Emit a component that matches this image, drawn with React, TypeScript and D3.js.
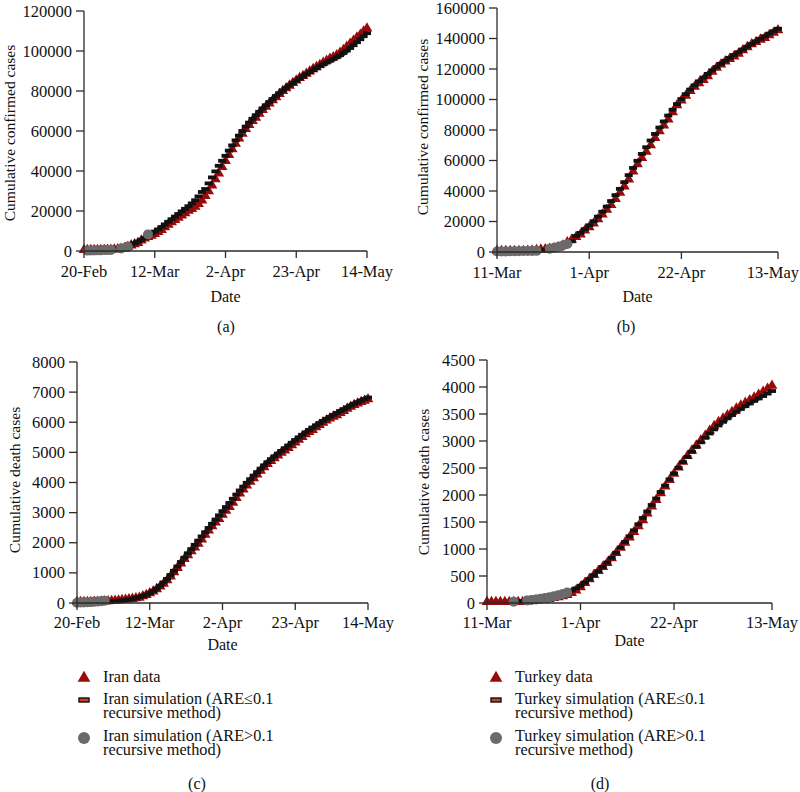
import React from "react";
import * as d3 from "d3";

// ---------- tick labels ----------
const iranTickDays = [0, 21, 42, 63, 84];
const iranTickLabels = ["20-Feb", "12-Mar", "2-Apr", "23-Apr", "14-May"];
const turkeyTickDays = [0, 21, 42, 64];
const turkeyTickLabels = ["11-Mar", "1-Apr", "22-Apr", "13-May"];

// ---------- Iran (day 0 = 20-Feb) ----------
const iranConfirmed = [
  0, 2, 5, 18, 28, 43, 61, 95, 139, 245, 388, 593, 978, 1501, 2336, 2922, 3513, 4747, 5823, 6566,
  7161, 8042, 9000, 10075, 11364, 12729, 13938, 14991, 16169, 17361, 18407, 19644, 20610, 21638, 23049, 24811,
  27017, 29406, 32332, 35408, 38309, 41495, 44605, 47593, 50468, 53183, 55743, 58226, 60500, 62589, 64586,
  66220, 68192, 70029, 71686, 73303, 74877, 76389, 77995, 79494, 80868, 82211, 83505, 84802, 85996, 87026,
  88194, 89328, 90481, 91472, 92584, 93657, 94640, 95646, 96448, 97424, 98647, 99970, 101650, 103135, 104691,
  106220, 107603, 109286, 110767,
];
const iranConfirmedSim = [
  null, 200, 250, 300, 350, 400, 450, 500, 550, 700, 900, 1300, 1700, 2200, 3200, 3900, 4700, 5600, 6500, 8300,
  8700, 9700, 10800, 12000, 13300, 14600, 15900, 17200, 18500, 19800, 21100, 22400, 23800, 25400, 27300, 29500,
  31000, 33800, 36800, 39800, 42600, 45100, 47600, 50200, 52800, 55300, 57700, 60000, 62200, 64200, 66100,
  67900, 69600, 71300, 72900, 74500, 76000, 77500, 78900, 80300, 81600, 82800, 84000, 85100, 86200, 87300,
  88400, 89400, 90400, 91400, 92400, 93300, 94200, 95100, 96000, 96900, 97900, 99000, 100200, 101500, 102900,
  104400, 105900, 107400, 108900,
];
const iranConfirmedHighARE = [1, 2, 3, 4, 5, 6, 7, 8, 11, 13, 19];

const iranDeaths = [
  0, 2, 2, 4, 5, 8, 12, 16, 19, 26, 34, 43, 54, 66, 77, 92, 107, 124, 145, 194,
  237, 291, 354, 429, 514, 611, 724, 853, 988, 1135, 1284, 1433, 1556, 1685, 1812, 1934,
  2077, 2234, 2378, 2517, 2640, 2757, 2898, 3036, 3160, 3294, 3452, 3603, 3739, 3872, 3993,
  4110, 4232, 4357, 4474, 4585, 4683, 4777, 4869, 4958, 5031, 5118, 5209, 5297, 5391, 5481,
  5574, 5650, 5710, 5806, 5877, 5957, 6028, 6091, 6156, 6203, 6277, 6340, 6418, 6486, 6541,
  6589, 6640, 6685, 6733,
];
const iranDeathsSim = [
  10, 15, 20, 25, 30, 40, 50, 60, 75, 35, 45, 57, 70, 85, 100, 118, 140, 165, 195, 230,
  275, 330, 400, 480, 575, 680, 800, 930, 1070, 1215, 1360, 1505, 1650, 1790, 1930, 2070,
  2210, 2350, 2490, 2630, 2770, 2910, 3050, 3185, 3320, 3460, 3600, 3735, 3865, 3990, 4110,
  4230, 4345, 4460, 4570, 4675, 4775, 4870, 4960, 5050, 5140, 5230, 5320, 5410, 5500, 5585,
  5665, 5745, 5825, 5900, 5975, 6045, 6115, 6180, 6245, 6310, 6375, 6435, 6495, 6555, 6610,
  6665, 6720, 6770, 6820,
];
const iranDeathsHighARE = [0, 1, 2, 3, 4, 5, 6, 7, 8];

// ---------- Turkey (day 0 = 11-Mar) ----------
const turkeyConfirmed = [
  1, 1, 5, 6, 18, 47, 98, 191, 359, 670, 947, 1236, 1529, 1872, 2433, 3629, 5698, 7402, 9217, 10827,
  13531, 15679, 18135, 20921, 23934, 27069, 30217, 34109, 38226, 42282, 47029, 52167, 56956, 61049, 65111,
  69392, 74193, 78546, 82329, 86306, 90980, 95591, 98674, 101790, 104912, 107773, 110130, 112261, 114653,
  117589, 120204, 122392, 124375, 126045, 127659, 129491, 131744, 133721, 135569, 137115, 138657, 139771,
  141475, 143114, 144749,
];
const turkeyConfirmedSim = [
  300, 350, 400, 450, 500, 550, 600, 650, 700, 750, 900, 1300, 2200, 2800, 3500, 4300, 5200, 7000, 10500, 12500,
  15000, 17500, 20200, 23200, 26400, 29800, 33400, 37300, 41400, 45800, 50400, 55100, 59800, 64300, 68700,
  73100, 77400, 81600, 85600, 89500, 93300, 97000, 100300, 103500, 106500, 109300, 111900, 114400, 116800,
  119100, 121300, 123400, 125400, 127300, 129200, 131000, 132800, 134600, 136400, 138100, 139800, 141500,
  143200, 144800, 146400,
];
const turkeyConfirmedHighARE = [0, 1, 2, 3, 4, 5, 6, 7, 8, 9, 12, 13, 14, 15, 16];

const turkeyDeaths = [
  0, 0, 0, 0, 0, 0, 1, 2, 3, 9, 21, 30, 37, 44, 59, 75, 92, 108, 131, 168,
  214, 277, 356, 425, 501, 574, 649, 725, 812, 908, 1006, 1101, 1198, 1296, 1403,
  1518, 1643, 1769, 1890, 2017, 2140, 2259, 2376, 2491, 2600, 2706, 2805, 2900, 2992,
  3081, 3174, 3258, 3336, 3397, 3461, 3520, 3584, 3641, 3689, 3739, 3786, 3841, 3894, 3952, 4007,
];
const turkeyDeathsSim = [
  null, null, null, null, null, null, 25, 30, 38, 45, 55, 65, 78, 92, 108, 125, 145, 168, 195, 230,
  270, 320, 380, 445, 515, 590, 668, 750, 838, 930, 1028, 1130, 1236, 1345, 1458,
  1575, 1695, 1815, 1935, 2055, 2175, 2290, 2400, 2505, 2608, 2705, 2800, 2890, 2975,
  3058, 3138, 3215, 3288, 3355, 3420, 3480, 3538, 3593, 3645, 3695, 3742, 3788, 3833, 3878, 3925,
];
const turkeyDeathsHighARE = [6, 9, 10, 11, 12, 13, 14, 15, 16, 17, 18];

// ---------- y ticks ----------
const confIranYTicks = [0, 20000, 40000, 60000, 80000, 100000, 120000];
const confTurkeyYTicks = [0, 20000, 40000, 60000, 80000, 100000, 120000, 140000, 160000];
const deathIranYTicks = [0, 1000, 2000, 3000, 4000, 5000, 6000, 7000, 8000];
const deathTurkeyYTicks = [0, 500, 1000, 1500, 2000, 2500, 3000, 3500, 4000, 4500];

const FONT = "Liberation Serif, DejaVu Serif, serif";
const RED = "#990a0a";
const GRAY = "#6a6a6a";
const AXIS = "#2a2a2a";
const TICK_FS = 16.5;

type PanelProps = {
  left: number; right: number; top: number; bottom: number;
  xMax: number; tickDays: number[]; tickLabels: string[];
  yTicks: number[];
  data: number[]; sim: (number | null)[]; high: number[];
  yTitle: string; titleX: number; titleY: number;
  tickBaseline: number; dateBaseline: number;
};

const txt = (size: number): React.CSSProperties => ({ fontFamily: FONT, fontSize: size });

function Panel(p: PanelProps) {
  const x = d3.scaleLinear().domain([0, p.xMax]).range([p.left, p.right]);
  const yMax = p.yTicks[p.yTicks.length - 1];
  const y = d3.scaleLinear().domain([0, yMax]).range([p.bottom, p.top]);
  const tri = d3.symbol().type(d3.symbolTriangle).size(50)() as string;
  const highSet = new Set(p.high);
  return (
    <g>
      {p.data.map((v, i) => (
        <path key={"t" + i} d={tri} transform={`translate(${x(i)},${y(v) - 1})`} fill={RED} />
      ))}
      {p.sim.map((v, i) =>
        v == null || highSet.has(i) ? null : (
          <rect key={"d" + i} x={x(i) - 4} y={y(v) - 1.9} width={8} height={3.8} fill="#111" />
        )
      )}
      {p.sim.map((v, i) =>
        v == null || !highSet.has(i) ? null : (
          <circle key={"c" + i} cx={x(i)} cy={y(v)} r={5} fill={GRAY} />
        )
      )}
      <line x1={p.left} x2={p.left} y1={p.bottom} y2={y(yMax)} stroke={AXIS} strokeWidth={1.3} />
      <line x1={p.left} x2={p.right} y1={p.bottom} y2={p.bottom} stroke={AXIS} strokeWidth={1.3} />
      {p.yTicks.map((t) => (
        <g key={"y" + t}>
          <line x1={p.left - 8} x2={p.left} y1={y(t)} y2={y(t)} stroke={AXIS} strokeWidth={1.3} />
          <text x={p.left - 12} y={y(t) + 5.5} textAnchor="end" style={txt(TICK_FS)} fill="#111">
            {t}
          </text>
        </g>
      ))}
      {p.tickDays.map((d, i) => {
        const px = x(d);
        const nearEdge = px + 26 > 799;
        return (
          <g key={"x" + d}>
            <line x1={px} x2={px} y1={p.bottom} y2={p.bottom + 7} stroke={AXIS} strokeWidth={1.3} />
            <text
              x={nearEdge ? 799 : px}
              y={p.tickBaseline}
              textAnchor={nearEdge ? "end" : "middle"}
              style={txt(TICK_FS)}
              fill="#111"
            >
              {p.tickLabels[i]}
            </text>
          </g>
        );
      })}
      <text x={(p.left + p.right) / 2} y={p.dateBaseline} textAnchor="middle" style={txt(16)} fill="#111">
        Date
      </text>
      <text
        transform={`translate(${p.titleX},${p.titleY}) rotate(-90)`}
        textAnchor="middle"
        style={txt(15.5)}
        fill="#111"
      >
        {p.yTitle}
      </text>
    </g>
  );
}

function Legend({ x, country }: { x: number; country: string }) {
  const tri = d3.symbol().type(d3.symbolTriangle).size(70)() as string;
  const tx = x + 19;
  return (
    <g style={txt(16.3)} fill="#111">
      <path d={tri} transform={`translate(${x},${678})`} fill={RED} />
      <text x={tx} y={682}>{country} data</text>
      <rect x={x - 5} y={698} width={10} height={4} fill="#c8401c" stroke="#111" strokeWidth={1.4} />
      <text x={tx} y={704}>{country} simulation (ARE≤0.1</text>
      <text x={tx} y={718}>recursive method)</text>
      <circle cx={x} cy={738} r={6} fill={GRAY} />
      <text x={tx} y={741}>{country} simulation (ARE&gt;0.1</text>
      <text x={tx} y={755}>recursive method)</text>
    </g>
  );
}

export default function App() {
  return (
    <svg width={800} height={792} style={{ position: "absolute", left: 0, top: 0, background: "#fff" }}>
      <rect width={800} height={792} fill="#fff" />
      <Panel
        left={84} right={367} top={11} bottom={251}
        xMax={84} tickDays={iranTickDays} tickLabels={iranTickLabels}
        yTicks={confIranYTicks}
        data={iranConfirmed} sim={iranConfirmedSim} high={iranConfirmedHighARE}
        yTitle="Cumulative confirmed cases" titleX={15} titleY={133}
        tickBaseline={277} dateBaseline={302}
      />
      <Panel
        left={497} right={778} top={8} bottom={252}
        xMax={64} tickDays={turkeyTickDays} tickLabels={turkeyTickLabels}
        yTicks={confTurkeyYTicks}
        data={turkeyConfirmed} sim={turkeyConfirmedSim} high={turkeyConfirmedHighARE}
        yTitle="Cumulative confirmed cases" titleX={428} titleY={127}
        tickBaseline={278} dateBaseline={302}
      />
      <Panel
        left={77} right={368} top={362} bottom={603}
        xMax={84} tickDays={iranTickDays} tickLabels={iranTickLabels}
        yTicks={deathIranYTicks}
        data={iranDeaths} sim={iranDeathsSim} high={iranDeathsHighARE}
        yTitle="Cumulative death cases" titleX={20} titleY={480}
        tickBaseline={628} dateBaseline={650}
      />
      <Panel
        left={487} right={772} top={360} bottom={603}
        xMax={64} tickDays={turkeyTickDays} tickLabels={turkeyTickLabels}
        yTicks={deathTurkeyYTicks}
        data={turkeyDeaths} sim={turkeyDeathsSim} high={turkeyDeathsHighARE}
        yTitle="Cumulative death cases" titleX={429} titleY={482}
        tickBaseline={628} dateBaseline={646}
      />
      <g style={txt(16)} fill="#111" textAnchor="middle">
        <text x={226} y={332}>(a)</text>
        <text x={626} y={332}>(b)</text>
        <text x={197} y={789}>(c)</text>
        <text x={600} y={789}>(d)</text>
      </g>
      <Legend x={84} country="Iran" />
      <Legend x={496} country="Turkey" />
    </svg>
  );
}
